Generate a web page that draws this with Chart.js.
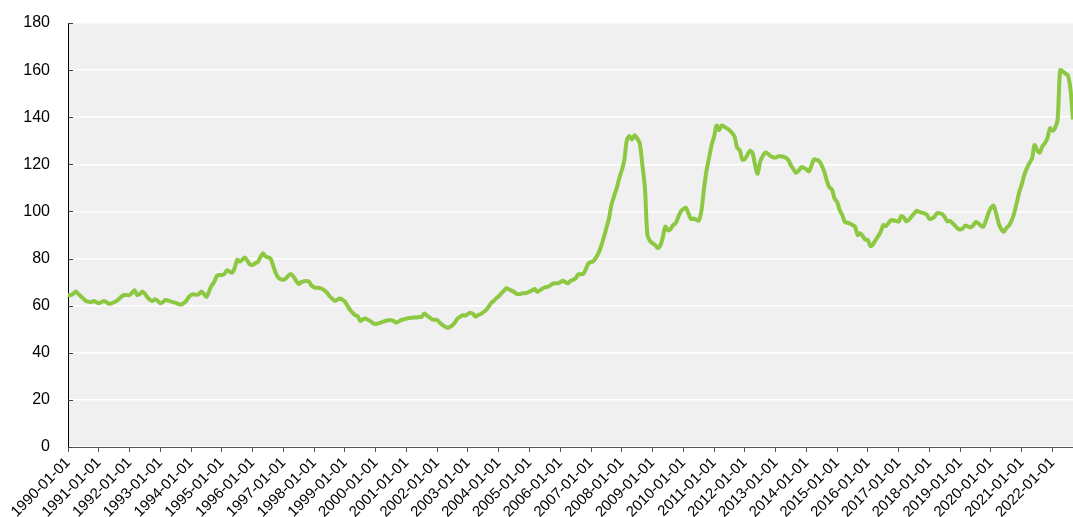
<!DOCTYPE html>
<html>
<head>
<meta charset="utf-8">
<script src="https://cdn.jsdelivr.net/npm/chart.js@4"></script>
<style>
  html, body { margin: 0; padding: 0; background: #fff; }
  #wrap { width: 1073px; height: 517px; }
</style>
</head>
<body>
<div id="wrap"><canvas id="chart"></canvas></div>
<script>
// monthly series, 1990-01 .. 2022-09, one row per year
const firstYear = 1990;
const values = [
  64.5, 64.5, 65, 66, 65, 64, 63, 62, 61.7, 61.5, 62, 61.5,
  61, 61.5, 62, 61.5, 60.8, 61, 61.5, 62, 63, 64, 64.5, 64.5,
  64.5, 65.5, 66.5, 64.5, 65, 66, 65, 63.5, 62.5, 62, 62.7, 62,
  61, 61.5, 62.4, 62.2, 61.8, 61.5, 61.2, 60.8, 60.5, 61, 61.8, 63.5,
  64.5, 64.8, 64.6, 64.8, 66, 65, 63.7, 66, 68.5, 70, 72.5, 73,
  73, 73.5, 75, 74.5, 74, 76, 79.5, 78.7, 79.5, 80.5, 79, 77.5,
  77.3, 78, 78.5, 80.5, 82.2, 81, 80.5, 80, 77, 74, 72, 71.2,
  71, 71.6, 72.8, 73.4, 72.3, 70.5, 69.2, 70, 70.3, 70.5, 70.2, 68.5,
  67.8, 67.6, 67.5, 67.2, 66.5, 65.5, 64.1, 63, 62.1, 62.5, 63, 62.5,
  61.7, 60, 58.2, 57, 56, 55.5, 53.5, 54.2, 54.6, 54, 53.4, 52.5,
  52.2, 52.5, 52.8, 53.2, 53.6, 53.8, 53.9, 53.5, 52.8, 53.3, 53.9, 54.2,
  54.5, 54.7, 54.9, 55, 55, 55.2, 55.3, 56.7, 55.8, 55, 54.2, 54,
  53.9, 52.8, 51.8, 51.2, 50.6, 51, 51.8, 53, 54.6, 55.3, 56, 55.8,
  56.5, 57, 56.5, 55.3, 56, 56.5, 57.2, 58.1, 59.5, 61, 62, 63.1,
  64, 65.2, 66.3, 67.4, 66.9, 66.4, 65.8, 65, 64.9, 65.2, 65.3, 65.5,
  65.9, 66.5, 67.1, 65.9, 66.5, 67.2, 67.8, 68, 68.5, 69.3, 69.5, 69.5,
  70, 70.6, 70, 69.5, 70.5, 71, 71.6, 73.3, 73.3, 73.5, 75.5, 78,
  78.5, 79, 80.5, 82.5, 85.5, 89, 93, 97, 103, 106.5, 109.8, 114,
  117.5, 121.8, 130.3, 132, 130.5, 132.4, 131, 129, 120, 110.5, 90, 87.5,
  86.5, 85.8, 84.5, 85.5, 89, 93.5, 92, 92.5, 94.2, 94.9, 97.5, 100,
  101, 101.5, 99.2, 96.8, 97, 96.5, 96.1, 99.9, 109, 117, 122.5, 128,
  131.7, 136.5, 134.5, 136.5, 136, 135.3, 134.5, 133.3, 131.8, 127, 126.1, 122.1,
  122.3, 124, 125.8, 124.8, 119.7, 116, 121.2, 123.5, 125, 124.5, 123.5, 123,
  122.9, 123.4, 123.4, 123.2, 122.8, 121.8, 119.5, 117.9, 116.4, 117.3, 118.8, 118.5,
  117.9, 117, 119.5, 122.1, 121.8, 121.4, 119.5, 116.9, 113, 110.2, 109.3, 105.5,
  104, 100.6, 98.5, 95.6, 95.2, 94.9, 94.2, 93.5, 90, 90.7, 89.5, 88,
  87.9, 85.3, 86, 87.9, 89.5, 91.4, 94.2, 93.8, 95, 96.3, 96.2, 96,
  95.7, 98, 97.5, 95.8, 96.5, 97.8, 99, 100.3, 99.8, 99.5, 99.2, 98.6,
  96.8, 97, 97.8, 99.3, 99.2, 98.9, 97.5, 95.8, 96, 95, 94, 92.8,
  92.3, 92.8, 94, 93.6, 93.3, 94, 95.5, 95, 94, 93.5, 96, 99.2,
  101.5, 102.5, 99.2, 95, 92.5, 91.4, 93, 94, 96, 99, 103.4, 108,
  111.5, 115.5, 118.3, 120.5, 122.5, 128.2, 126, 125, 127.5, 129, 131, 135.3,
  134.3, 135.5, 139, 160, 159.5, 158.5, 157.9, 152, 139
];
const tickYears = [1990, 1991, 1992, 1993, 1994, 1995, 1996, 1997, 1998, 1999,
  2000, 2001, 2002, 2003, 2004, 2005, 2006, 2007, 2008, 2009, 2010, 2011,
  2012, 2013, 2014, 2015, 2016, 2017, 2018, 2019, 2020, 2021, 2022];
const yTicks = [0, 20, 40, 60, 80, 100, 120, 140, 160, 180];

const points = values.map((v, i) => ({ x: i, y: v }));

const plotBg = {
  id: 'plotBg',
  beforeDraw(chart) {
    const a = chart.chartArea, ctx = chart.ctx;
    ctx.save();
    ctx.fillStyle = '#f0f0f0';
    ctx.fillRect(a.left, a.top, a.right - a.left, a.bottom - a.top);
    ctx.restore();
  },
  afterDatasetsDraw(chart) {
    // short inward tick marks on the value axis
    const a = chart.chartArea, ctx = chart.ctx, y = chart.scales.y;
    ctx.save();
    ctx.strokeStyle = '#404040';
    ctx.lineWidth = 1;
    for (const t of y.ticks) {
      const py = Math.round(y.getPixelForValue(t.value)) + 0.5;
      ctx.beginPath();
      ctx.moveTo(a.left, py);
      ctx.lineTo(a.left + 5, py);
      ctx.stroke();
    }
    ctx.restore();
  }
};

new Chart('chart', {
  type: 'line',
  data: {
    datasets: [{
      data: points,
      borderColor: '#8cc841',
      borderWidth: 4,
      pointRadius: 0,
      tension: 0.3,
      fill: false
    }]
  },
  options: {
    responsive: true,
    maintainAspectRatio: false,
    animation: false,
    layout: { padding: { top: 0, right: 0, left: 0, bottom: 0 } },
    plugins: { legend: { display: false }, tooltip: { enabled: false } },
    scales: {
      x: {
        type: 'linear',
        min: 0,
        max: values.length - 1,
        afterBuildTicks: s => { s.ticks = tickYears.map(yr => ({ value: (yr - firstYear) * 12 })); },
        afterFit: s => { s.height = 70; },
        ticks: {
          autoSkip: false,
          maxRotation: 45,
          minRotation: 45,
          color: '#000',
          padding: 2,
          font: { family: 'Liberation Sans', size: 15 },
          callback: v => (firstYear + v / 12) + '-01-01'
        },
        grid: { drawOnChartArea: false, drawTicks: true, tickLength: 5, color: '#555' },
        border: { color: '#555', width: 1 }
      },
      y: {
        min: 0,
        max: 180,
        afterBuildTicks: s => { s.ticks = yTicks.map(v => ({ value: v })); },
        afterFit: s => { s.width = 68; s.paddingTop = 23; },
        ticks: {
          color: '#000',
          padding: 18,
          font: { family: 'Liberation Sans', size: 16 }
        },
        grid: { color: '#ffffff', lineWidth: 1.5, drawTicks: false },
        border: { color: '#000', width: 1 }
      }
    }
  },
  plugins: [plotBg]
});
</script>
</body>
</html>
